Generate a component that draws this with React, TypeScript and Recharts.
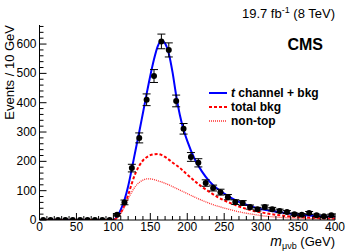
import React from 'react';
import { ComposedChart, Line, Scatter, ErrorBar, XAxis, YAxis } from 'recharts';

// measured data, 10 GeV bins
const binCenters = [5, 15, 25, 35, 45, 55, 65, 75, 85, 95, 105, 115, 125, 135, 145, 155, 165, 175, 185, 195, 205, 215, 225, 235, 245, 255, 265, 275, 285, 295, 305, 315, 325, 335, 345, 355, 365, 375, 385, 395];
const dataCounts = [0, 0, 0, 0, 0, 0, 0, 0, 0, 0, 18, 60, 177, 280, 410, 491, 609, 580, 406, 311, 215, 195, 126, 109, 95, 78, 61, 58, 44, 37, 44, 37, 31, 27, 20, 18, 24, 16, 13, 16];
const dataErrors = [0, 0, 0, 0, 0, 0, 0, 0, 0, 0, 4, 8, 13, 17, 20, 22, 25, 24, 20, 18, 15, 14, 11, 10, 10, 9, 8, 8, 7, 6, 7, 6, 6, 5, 4, 4, 5, 4, 4, 4];

// fit curves
const curveX = [0, 50, 100, 105, 110, 115, 120, 125, 130, 135, 140, 145, 150, 155, 160, 165, 170, 175, 180, 185, 190, 195, 200, 210, 220, 230, 240, 250, 260, 270, 280, 290, 300, 320, 340, 360, 380, 400];
const tchanBkg = [0, 0, 0, 12, 35, 68, 115, 175, 238, 300, 365, 430, 492, 548, 592, 612, 602, 568, 505, 425, 358, 308, 270, 208, 165, 132, 108, 90, 75, 62, 52, 44, 37, 28, 21, 16, 13, 11];
const totalBkg = [0, 0, 0, 8, 25, 50, 85, 125, 160, 185, 203, 214, 221, 224, 225, 222, 215, 206, 196, 187, 178, 166, 155, 133, 113, 96, 80, 67, 56, 46, 38, 31, 26, 18, 12, 9, 6, 5];
const nonTop = [0, 0, 0, 7, 22, 45, 72, 96, 115, 128, 136, 140, 140, 138, 134, 130, 125, 120, 114, 108, 102, 96, 90, 78, 67, 57, 48, 41, 34, 28, 23, 19, 15, 10, 7, 5, 4, 3];

const xTicks = [0, 10, 20, 30, 40, 50, 60, 70, 80, 90, 100, 110, 120, 130, 140, 150, 160, 170, 180, 190, 200, 210, 220, 230, 240, 250, 260, 270, 280, 290, 300, 310, 320, 330, 340, 350, 360, 370, 380, 390, 400];
const yTicks = [0, 20, 40, 60, 80, 100, 120, 140, 160, 180, 200, 220, 240, 260, 280, 300, 320, 340, 360, 380, 400, 420, 440, 460, 480, 500, 520, 540, 560, 580, 600, 620, 640, 660];

const points = binCenters.map((x, i) => ({ x, y: dataCounts[i], err: dataErrors[i] }));
const toLine = (ys: number[]) => curveX.map((x, i) => ({ x, y: ys[i] }));

const FONT = '"Liberation Sans", Arial, Helvetica, sans-serif';

const BottomTick = (props: any) => {
  const { x, y, payload } = props;
  const major = payload.value % 50 === 0;
  return (
    <g>
      <line x1={x} y1={y} x2={x} y2={y - (major ? 7 : 4)} stroke="#000" />
      {major && (
        <text x={x} y={y + 11} textAnchor="middle" fontSize={12} fontFamily={FONT} fill="#000">
          {payload.value}
        </text>
      )}
    </g>
  );
};

const TopTick = (props: any) => {
  const { x, y, payload } = props;
  const major = payload.value % 50 === 0;
  return <line x1={x} y1={y} x2={x} y2={y + (major ? 7 : 4)} stroke="#000" />;
};

const LeftTick = (props: any) => {
  const { x, y, payload } = props;
  const major = payload.value % 100 === 0;
  return (
    <g>
      <line x1={x} y1={y} x2={x + (major ? 7 : 4)} y2={y} stroke="#000" />
      {major && (
        <text x={x - 3} y={y + 4} textAnchor="end" fontSize={12} fontFamily={FONT} fill="#000">
          {payload.value}
        </text>
      )}
    </g>
  );
};

const RightTick = (props: any) => {
  const { x, y, payload } = props;
  const major = payload.value % 100 === 0;
  return <line x1={x} y1={y} x2={x - (major ? 7 : 4)} y2={y} stroke="#000" />;
};

const Dot = (p: any) => <circle cx={p.cx} cy={p.cy} r={3} fill="#000" />;

export default function App() {
  return (
    <div style={{ position: 'absolute', left: 0, top: 0, width: 354, height: 252, background: '#fff' }}>
      <ComposedChart width={354} height={252} margin={{ top: 25, right: 19, bottom: 0, left: 0 }}>
        <XAxis
          dataKey="x"
          type="number"
          domain={[0, 400]}
          ticks={xTicks}
          interval={0}
          height={32}
          tickSize={0}
          tickMargin={0}
          tickLine={false}
          tick={<BottomTick />}
          axisLine={{ stroke: '#000' }}
        />
        <XAxis
          xAxisId="top"
          orientation="top"
          type="number"
          domain={[0, 400]}
          ticks={xTicks}
          interval={0}
          height={0}
          tickSize={0}
          tickMargin={0}
          tickLine={false}
          tick={<TopTick />}
          axisLine={{ stroke: '#000' }}
        />
        <YAxis
          dataKey="y"
          type="number"
          domain={[0, 665]}
          ticks={yTicks}
          interval={0}
          width={39.5}
          tickSize={0}
          tickMargin={0}
          tickLine={false}
          tick={<LeftTick />}
          axisLine={{ stroke: '#000' }}
          allowDataOverflow
        />
        <YAxis
          yAxisId="right"
          orientation="right"
          type="number"
          domain={[0, 665]}
          ticks={yTicks}
          interval={0}
          width={0}
          tickSize={0}
          tickMargin={0}
          tickLine={false}
          tick={<RightTick />}
          axisLine={{ stroke: '#000' }}
        />
        <Line data={toLine(tchanBkg)} dataKey="y" type="monotone" dot={false} stroke="#0000ff" strokeWidth={2} isAnimationActive={false} />
        <Line data={toLine(totalBkg)} dataKey="y" type="monotone" dot={false} stroke="#ff0000" strokeWidth={2} strokeDasharray="3 2" isAnimationActive={false} />
        <Line data={toLine(nonTop)} dataKey="y" type="monotone" dot={false} stroke="#ff3030" strokeWidth={1.3} strokeDasharray="1 1" isAnimationActive={false} />
        <Scatter data={points} dataKey="y" shape={<Dot />} isAnimationActive={false}>
          <ErrorBar dataKey="err" direction="y" width={4} stroke="#000" strokeWidth={1} />
        </Scatter>
      </ComposedChart>
      <svg width={354} height={252} style={{ position: 'absolute', left: 0, top: 0, pointerEvents: 'none' }} fontFamily={FONT}>
        <text x={335} y={18} textAnchor="end" fontSize={13}>
          19.7 fb<tspan dy={-5} fontSize={9}>-1</tspan><tspan dy={5}> (8 TeV)</tspan>
        </text>
        <text x={323} y={50} textAnchor="end" fontSize={16} fontWeight="bold">CMS</text>
        <text transform="translate(14,25) rotate(-90)" textAnchor="end" fontSize={13}>Events / 10 GeV</text>
        <text x={335} y={246} textAnchor="end" fontSize={13}>
          <tspan fontStyle="italic" fontSize={14}>m</tspan><tspan dy={3} fontSize={9}>μνb</tspan><tspan dy={-3}> (GeV)</tspan>
        </text>
        <line x1={209} y1={93} x2={227} y2={93} stroke="#0000ff" strokeWidth={2} />
        <line x1={209} y1={107} x2={227} y2={107} stroke="#ff0000" strokeWidth={2} strokeDasharray="3 2" />
        <line x1={209} y1={121} x2={227} y2={121} stroke="#ff3030" strokeWidth={1.3} strokeDasharray="1 1" />
        <text x={231} y={97} fontSize={12} fontWeight="bold"><tspan fontStyle="italic">t</tspan> channel + bkg</text>
        <text x={231} y={111} fontSize={12} fontWeight="bold">total bkg</text>
        <text x={231} y={125} fontSize={12} fontWeight="bold">non-top</text>
      </svg>
    </div>
  );
}
